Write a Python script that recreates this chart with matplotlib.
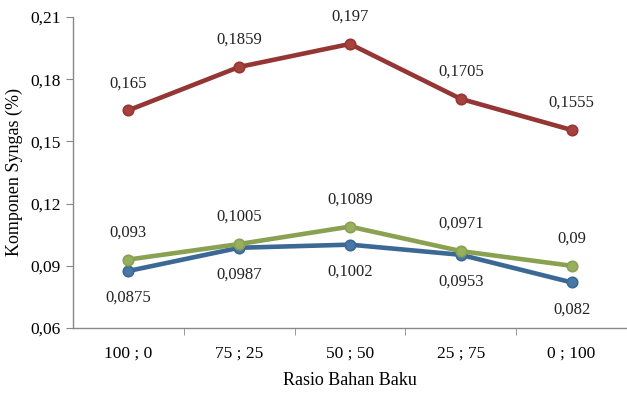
import matplotlib.pyplot as plt

categories = ['100 ; 0', '75 ; 25', '50 ; 50', '25 ; 75', '0 ; 100']
red_vals = [0.165, 0.1859, 0.197, 0.1705, 0.1555]
green_vals = [0.093, 0.1005, 0.1089, 0.0971, 0.09]
blue_vals = [0.0875, 0.0987, 0.1002, 0.0953, 0.082]
red_labels = ['0,165', '0,1859', '0,197', '0,1705', '0,1555']
green_labels = ['0,093', '0,1005', '0,1089', '0,0971', '0,09']
blue_labels = ['0,0875', '0,0987', '0,1002', '0,0953', '0,082']
yticks = [0.06, 0.09, 0.12, 0.15, 0.18, 0.21]
ytick_labels = ['0,06', '0,09', '0,12', '0,15', '0,18', '0,21']

plt.rcParams['font.family'] = ['Liberation Serif', 'DejaVu Serif']

fig = plt.figure(figsize=(6.27, 3.94), dpi=100)
ax = fig.add_axes([0.1164, 0.1675, 0.8836, 0.7894])

x = list(range(len(categories)))
series = [
    (blue_vals, blue_labels, '#3b6894', '#4a78a6', -1),
    (green_vals, green_labels, '#8aa152', '#97b05d', 1),
    (red_vals, red_labels, '#943634', '#a8413e', 1),
]
for vals, labels, lc, mc, side in series:
    ax.plot(x, vals, color=lc, linewidth=3.3, marker='o', markersize=7.5,
            markerfacecolor=mc, markeredgecolor=lc, markeredgewidth=1.2)
    for xi, v, lab in zip(x, vals, labels):
        ax.annotate(lab, (xi, v), xytext=(0, 19.5 * side), textcoords='offset points',
                    ha='center', va='center', fontsize=12, color='#222222')

ax.set_xlim(-0.5, 4.5)
ax.set_ylim(0.06, 0.21)
ax.set_yticks(yticks)
ax.set_yticklabels(ytick_labels, fontsize=12.5)
ax.set_xticks(x)
ax.set_xticklabels(categories, fontsize=12.5)
ax.set_xticks([0.5, 1.5, 2.5, 3.5], minor=True)
ax.tick_params(axis='x', which='major', length=0, pad=13)
ax.tick_params(axis='x', which='minor', length=5, color='#888888')
ax.tick_params(axis='y', length=5, color='#888888', pad=4)

for s in ['top', 'right']:
    ax.spines[s].set_visible(False)
for s in ['left', 'bottom']:
    ax.spines[s].set_color('#888888')
    ax.spines[s].set_linewidth(1)

ax.set_xlabel('Rasio Bahan Baku', fontsize=13, labelpad=7)
ax.set_ylabel('Komponen Syngas (%)', fontsize=13, labelpad=5)

plt.savefig('out.png', dpi=100)
